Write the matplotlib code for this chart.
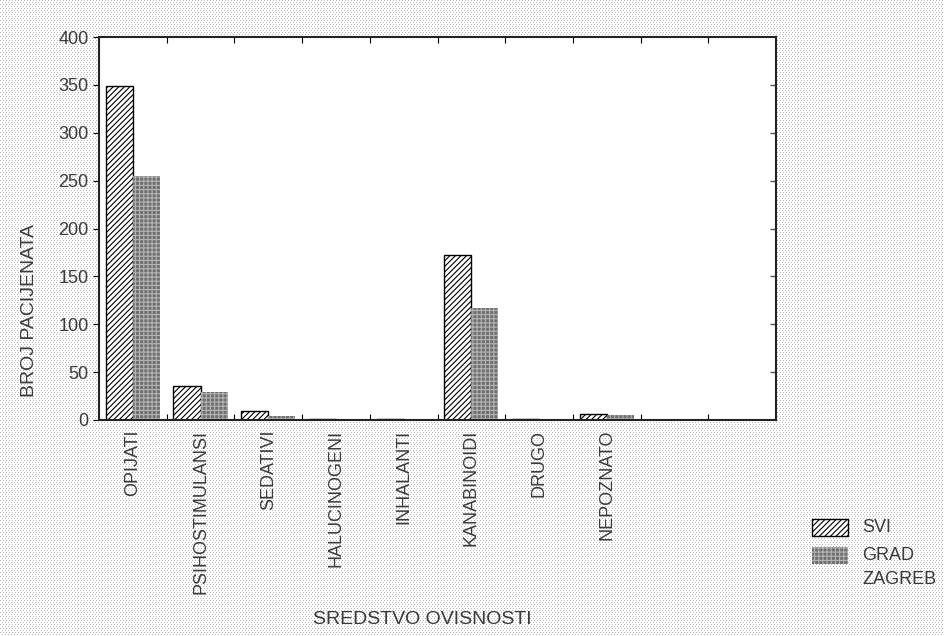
import numpy as np
import matplotlib
matplotlib.use('Agg')
import matplotlib.pyplot as plt
from matplotlib.patches import Rectangle

# values
categories = ['OPIJATI', 'PSIHOSTIMULANSI', 'SEDATIVI', 'HALUCINOGENI',
              'INHALANTI', 'KANABINOIDI', 'DRUGO', 'NEPOZNATO']
svi = [349, 35, 9, 1, 1, 172, 1, 6]
grad_zagreb = [255, 29, 4, 1, 1, 117, 1, 5]
series_names = ['SVI', 'GRAD\nZAGREB']
n_slots = 10  # two empty slots at the right end

plt.rcParams['font.family'] = 'Liberation Sans'
plt.rcParams['font.size'] = 13
plt.rcParams['hatch.linewidth'] = 0.8
txt = '#3a3a3a'

fig = plt.figure(figsize=(9.44, 6.36), dpi=100)

# dotted grey page background
h, w = 636, 944
bg = np.ones((h, w, 3))
yy, xx = np.mgrid[0:h, 0:w]
dots = (yy % 2 == 0) & ((xx + (yy // 2) % 2) % 3 == 0)
bg[dots] = 0.72
fig.figimage(bg, xo=0, yo=0, zorder=-10)

ax = fig.add_axes([99 / 944, 1 - 420 / 636, 677 / 944, 383 / 636])
ax.set_facecolor('white')

svi_style = dict(facecolor='white', edgecolor='black', hatch='//////', linewidth=1.0)
gz_style = dict(facecolor='#707070', edgecolor='#b4b4b4', hatch='++++', linewidth=0)

x = np.arange(len(categories))
bw = 0.4
ax.bar(x - bw / 2, svi, bw, **svi_style)
ax.bar(x + bw / 2, grad_zagreb, bw, **gz_style)

ax.set_xlim(-0.5, n_slots - 0.5)
ax.set_ylim(0, 400)
ax.set_yticks(range(0, 401, 50))

ax.set_xticks(x)
ax.set_xticklabels(categories, rotation=90, color=txt)
ax.set_xticks(np.arange(0.5, n_slots - 1, 1), minor=True)
ax.tick_params(axis='x', which='major', length=0, pad=7)
ax.tick_params(axis='x', which='minor', direction='in', length=4,
               top=True, bottom=True, width=0.8)
ax.tick_params(axis='y', which='major', direction='out', length=4,
               left=True, right=False, labelcolor=txt)
for v in range(50, 400, 50):
    ax.plot([n_slots - 0.5], [v], marker=0, color='#555', markersize=4,
            clip_on=False)

for s in ax.spines.values():
    s.set_linewidth(1.5)
    s.set_color('#222222')

fig.text(30 / 944, 1 - 311 / 636, 'BROJ PACIJENATA', rotation=90,
         ha='center', va='center', color=txt, fontsize=14)
fig.text(422 / 944, 1 - 620 / 636, 'SREDSTVO OVISNOSTI', ha='center',
         va='center', color=txt, fontsize=14)

# legend drawn by hand so the two-line label sits like the original
for i, (name, style) in enumerate(zip(series_names, [svi_style, gz_style])):
    top = 519 + i * 28
    fig.add_artist(Rectangle((812 / 944, 1 - (top + 17) / 636), 36 / 944, 17 / 636,
                             transform=fig.transFigure, **style))
    fig.text(862 / 944, 1 - (top + 8.5) / 636, name.split('\n')[0],
             va='center', ha='left', color=txt, fontsize=13)
    if '\n' in name:
        fig.text(862 / 944, 1 - (top + 32) / 636, name.split('\n')[1],
                 va='center', ha='left', color=txt, fontsize=13)

fig.savefig('out.png', dpi=100)
